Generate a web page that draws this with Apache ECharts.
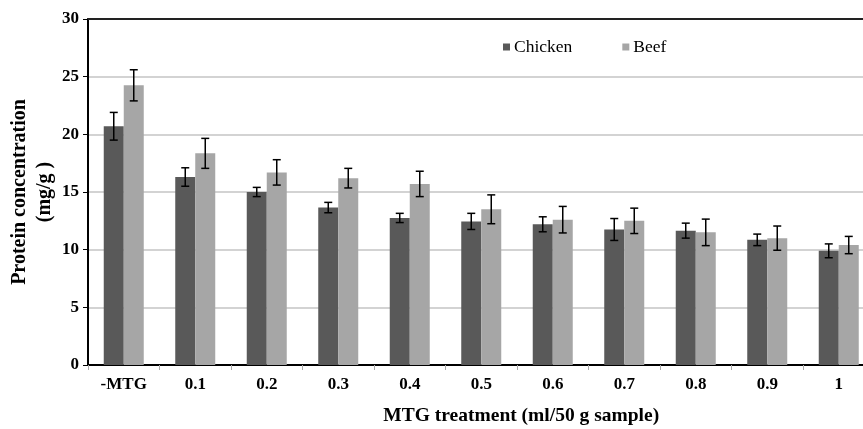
<!DOCTYPE html>
<html><head><meta charset="utf-8">
<script src="https://cdn.jsdelivr.net/npm/echarts@6/dist/echarts.min.js"></script>
<style>html,body{margin:0;padding:0;background:#fff}#c{width:863px;height:429px}</style>
</head><body><div id="c"></div>
<script>
const categories = ['-MTG','0.1','0.2','0.3','0.4','0.5','0.6','0.7','0.8','0.9','1'];
const chicken    = [20.7, 16.3, 15.0, 13.65, 12.75, 12.45, 12.2, 11.75, 11.65, 10.85, 9.9];
const chickenErr = [1.2, 0.8, 0.4, 0.45, 0.4, 0.7, 0.65, 0.95, 0.65, 0.5, 0.6];
const beef       = [24.25, 18.35, 16.7, 16.2, 15.7, 13.5, 12.6, 12.5, 11.5, 11.0, 10.4];
const beefErr    = [1.35, 1.3, 1.1, 0.85, 1.1, 1.25, 1.15, 1.1, 1.15, 1.05, 0.75];
const yTicks = [0, 5, 10, 15, 20, 25, 30];

const FONT = '"Liberation Serif", "Times New Roman", serif';
const chart = echarts.init(document.getElementById('c'));

function errData(vals, errs) {
  return vals.map((v, i) => [i, v - errs[i], v + errs[i]]);
}
function errRender(offset) {
  return function (params, api) {
    const i = api.value(0);
    const lo = api.coord([i, api.value(1)]);
    const hi = api.coord([i, api.value(2)]);
    const x = lo[0] + offset;
    const cap = 4;
    const style = { stroke: '#000', lineWidth: 1.5 };
    return { type: 'group', children: [
      { type: 'line', shape: { x1: x, y1: hi[1], x2: x, y2: lo[1] }, style },
      { type: 'line', shape: { x1: x - cap, y1: hi[1], x2: x + cap, y2: hi[1] }, style },
      { type: 'line', shape: { x1: x - cap, y1: lo[1], x2: x + cap, y2: lo[1] }, style }
    ]};
  };
}

chart.setOption({
  animation: false,
  backgroundColor: '#fff',
  grid: { left: 88, right: -11.5, top: 19, bottom: 64, containLabel: false, outerBoundsMode: 'none' },
  legend: {
    left: 498, top: 33, icon: 'rect', itemWidth: 7, itemHeight: 7, itemGap: 50,
    textStyle: { fontFamily: FONT, fontSize: 17.5, color: '#000', padding: [0, 0, 0, -1] },
    data: ['Chicken', 'Beef']
  },
  xAxis: [{
    type: 'category', data: categories,
    name: 'MTG treatment (ml/50 g sample)', nameLocation: 'middle', nameGap: 41,
    nameTextStyle: { fontFamily: FONT, fontWeight: 'bold', fontSize: 19.5, color: '#000', padding: [0, 0, 0, 80] },
    axisLine: { lineStyle: { color: '#000', width: 2 } },
    axisTick: { show: true, length: 5, lineStyle: { color: '#aaa' } },
    axisLabel: { fontFamily: FONT, fontWeight: 'bold', fontSize: 17, color: '#000', margin: 11 }
  }, {
    type: 'category', data: categories, position: 'top',
    axisLine: { show: true, lineStyle: { color: '#222', width: 2 } },
    axisTick: { show: false }, axisLabel: { show: false }
  }],
  yAxis: {
    type: 'value', min: 0, max: 30, interval: 5,
    name: 'Protein concentration\n(mg/g )', nameLocation: 'middle', nameGap: 31, nameRotate: 90,
    nameMoveOverlap: false,
    nameTextStyle: { fontFamily: FONT, fontWeight: 'bold', fontSize: 20, color: '#000', lineHeight: 25 },
    axisLine: { show: true, lineStyle: { color: '#000', width: 2 } },
    axisTick: { show: true, length: 5, lineStyle: { color: '#000' } },
    axisLabel: { fontFamily: FONT, fontWeight: 'bold', fontSize: 17, color: '#000', margin: 9,
      formatter: v => yTicks.includes(v) ? String(v) : '' },
    splitLine: { lineStyle: { color: '#c4c4c4', width: 1.5 } }
  },
  series: [
    { name: 'Chicken', type: 'bar', data: chicken, barWidth: 20, barGap: '0%',
      itemStyle: { color: '#595959' } },
    { name: 'Beef', type: 'bar', data: beef, barWidth: 20, barGap: '0%',
      itemStyle: { color: '#a6a6a6' } },
    { type: 'custom', renderItem: errRender(-10), data: errData(chicken, chickenErr),
      encode: { x: 0, y: [1, 2] }, z: 5 },
    { type: 'custom', renderItem: errRender(10), data: errData(beef, beefErr),
      encode: { x: 0, y: [1, 2] }, z: 5 }
  ]
});
</script></body></html>
